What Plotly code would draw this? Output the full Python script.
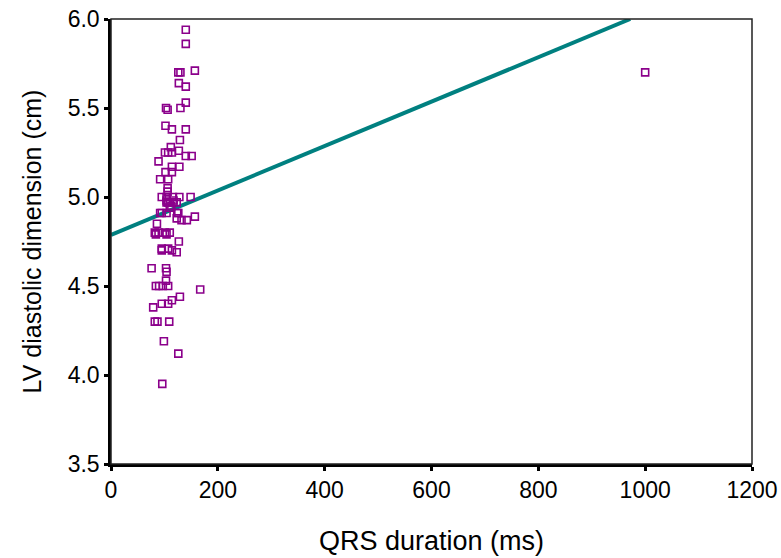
import plotly.graph_objects as go

# QRS duration (ms) and LV diastolic dimension (cm)
qrs_ms = [
    140, 140, 126, 130, 157, 127, 140, 140, 130, 103,
    106, 102, 114, 140, 129, 112, 101, 107, 114, 127,
    140, 151, 89, 114, 128, 102, 114, 92, 107, 106,
    106, 95, 104, 116, 128, 149, 104, 117, 104, 107,
    110, 117, 123, 110, 113, 92, 95, 104, 124, 126,
    123, 132, 142, 157, 86, 82, 89, 101, 110, 84,
    104, 127, 95, 95, 107, 114, 123, 76, 103, 104,
    103, 84, 90, 97, 107, 167, 129, 114, 107, 95,
    79, 82, 87, 109, 99, 126, 96, 1000,
]
lv_cm = [
    5.94, 5.86, 5.70, 5.70, 5.71, 5.64, 5.62, 5.53, 5.50, 5.50,
    5.49, 5.40, 5.38, 5.38, 5.32, 5.28, 5.25, 5.25, 5.25, 5.26,
    5.23, 5.23, 5.20, 5.17, 5.17, 5.14, 5.14, 5.10, 5.10, 5.05,
    5.03, 5.00, 5.00, 5.00, 5.00, 5.00, 4.98, 4.98, 4.97, 4.97,
    4.97, 4.97, 4.97, 4.94, 4.95, 4.91, 4.91, 4.91, 4.91, 4.91,
    4.88, 4.87, 4.87, 4.89, 4.85, 4.80, 4.80, 4.80, 4.80, 4.79,
    4.79, 4.75, 4.71, 4.70, 4.71, 4.70, 4.69, 4.60, 4.60, 4.58,
    4.53, 4.50, 4.50, 4.50, 4.50, 4.48, 4.44, 4.42, 4.40, 4.40,
    4.38, 4.30, 4.30, 4.30, 4.19, 4.12, 3.95, 5.70,
]

# fitted line end points
fit_x = [0, 972]
fit_y = [4.787, 6.0]

x_ticks = [0, 200, 400, 600, 800, 1000, 1200]
y_ticks = [3.5, 4.0, 4.5, 5.0, 5.5, 6.0]

FONT = "Liberation Sans, Arial, sans-serif"

fig = go.Figure()
fig.add_trace(go.Scatter(
    x=fit_x, y=fit_y, mode="lines",
    line=dict(color="#008080", width=4),
    showlegend=False, hoverinfo="skip",
))
fig.add_trace(go.Scatter(
    x=qrs_ms, y=lv_cm, mode="markers",
    marker=dict(symbol="square-open", size=7, color="#8B008B", line=dict(width=1.6, color="#8B008B")),
    showlegend=False,
))

# thin frame on the top and right
fig.add_shape(type="rect", xref="paper", yref="paper", x0=0, y0=0, x1=1, y1=1,
              line=dict(color="#222222", width=1.5), layer="above")

fig.update_layout(
    width=781,
    height=558,
    paper_bgcolor="white",
    plot_bgcolor="white",
    margin=dict(l=111, r=29, t=19, b=94),
    font=dict(family=FONT, color="black", size=23),
)
fig.update_xaxes(
    range=[0, 1200], tickvals=x_ticks, ticktext=[str(v) for v in x_ticks],
    showgrid=False, zeroline=False, showline=True, linecolor="black", linewidth=2.5,
    ticks="outside", ticklen=4, tickwidth=3, tickcolor="black",
    tickfont=dict(size=23), automargin=False, ticklabeloverflow="allow",
    title=dict(text="QRS duration (ms)", font=dict(size=27), standoff=29),
)
fig.update_yaxes(
    range=[3.5, 6.0], tickvals=y_ticks, ticktext=[f"{v:.1f}" for v in y_ticks],
    showgrid=False, zeroline=False, showline=True, linecolor="black", linewidth=2.5,
    ticks="outside", ticklen=4, tickwidth=3, tickcolor="black",
    tickfont=dict(size=23), automargin=False, ticklabeloverflow="allow",
    title=dict(text="LV diastolic dimension (cm)", font=dict(size=25), standoff=19),
)

# drop the default page margin so the figure fills the window exactly
fig.write_html(
    "out.html",
    config={"displayModeBar": False},
    post_script="document.body.style.margin='0';document.body.style.overflow='hidden';",
)
